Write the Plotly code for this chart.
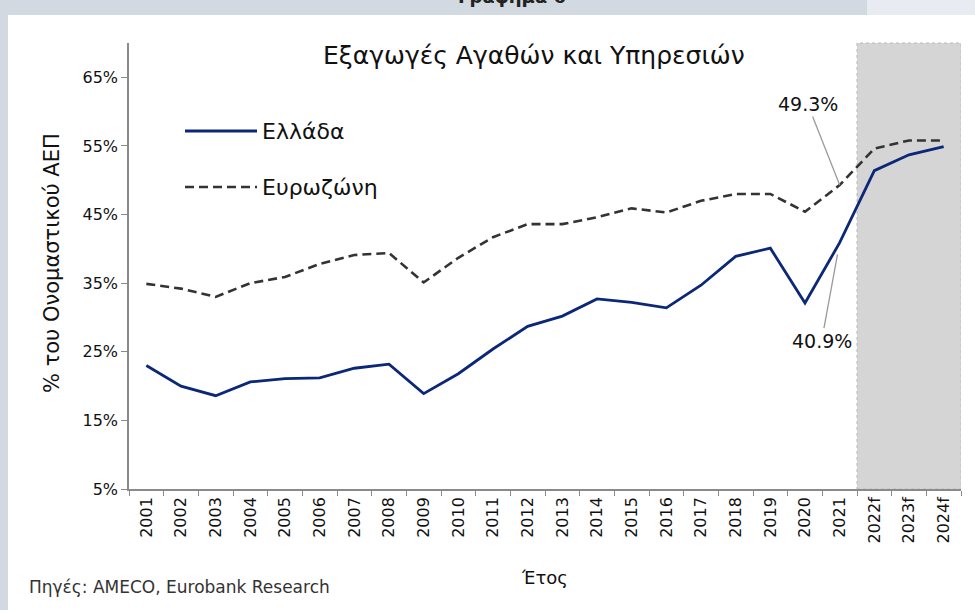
import plotly.graph_objects as go

years = ["2001", "2002", "2003", "2004", "2005", "2006", "2007", "2008", "2009", "2010",
         "2011", "2012", "2013", "2014", "2015", "2016", "2017", "2018", "2019", "2020",
         "2021", "2022f", "2023f", "2024f"]
greece = [23.0, 20.0, 18.6, 20.6, 21.1, 21.2, 22.6, 23.2, 18.9, 21.8,
          25.4, 28.7, 30.2, 32.7, 32.2, 31.4, 34.7, 38.9, 40.1, 32.1,
          40.9, 51.4, 53.7, 54.9]
eurozone = [34.9, 34.2, 33.0, 35.0, 35.9, 37.8, 39.1, 39.4, 35.1, 38.7,
            41.7, 43.6, 43.6, 44.6, 45.9, 45.3, 47.0, 48.0, 48.0, 45.4,
            49.3, 54.6, 55.8, 55.8]
y_ticks = [5, 15, 25, 35, 45, 55, 65]
forecast_years = ["2022f", "2023f", "2024f"]
label_year = "2021"

FONT = "DejaVu Sans"
W, H = 975, 610
L, R, T, B = 129, 14, 43, 121
PW, PH = W - L - R, H - T - B


def px(x):
    return (x - L) / PW


def py(y):
    return (H - B - y) / PH


fig = go.Figure()
fig.add_trace(go.Scatter(x=years, y=greece, mode="lines", name="Ελλάδα",
                         line=dict(color="#0b2777", width=2.8), showlegend=False))
fig.add_trace(go.Scatter(x=years, y=eurozone, mode="lines", name="Ευρωζώνη",
                         line=dict(color="#333333", width=2.6, dash="9px,5px"),
                         showlegend=False))

shapes = []
# outer gray frame
shapes.append(dict(type="rect", xref="paper", yref="paper", x0=px(0), x1=px(W), y0=py(0), y1=py(H),
                   fillcolor="#d3d9e0", line=dict(width=0), layer="below"))
shapes.append(dict(type="rect", xref="paper", yref="paper", x0=px(867), x1=px(W), y0=py(0), y1=py(15),
                   fillcolor="#e8ecf2", line=dict(width=0), layer="below"))
shapes.append(dict(type="rect", xref="paper", yref="paper", x0=px(8), x1=px(W), y0=py(15), y1=py(H),
                   fillcolor="#ffffff", line=dict(width=0), layer="below"))
# forecast shading
i0 = years.index(forecast_years[0]) - 0.5
i1 = years.index(forecast_years[-1]) + 0.5
shapes.append(dict(type="rect", xref="x", yref="paper", x0=i0, x1=i1, y0=0, y1=1,
                   fillcolor="#d5d5d5", line=dict(color="#b8b8b8", width=1, dash="dot"),
                   layer="below"))
# manual legend samples
shapes.append(dict(type="line", xref="paper", yref="paper", x0=px(185), x1=px(257), y0=py(131), y1=py(131),
                   line=dict(color="#0b2777", width=2.8)))
shapes.append(dict(type="line", xref="paper", yref="paper", x0=px(185), x1=px(257), y0=py(187), y1=py(187),
                   line=dict(color="#333333", width=2.6, dash="9px,5px")))

li = years.index(label_year)
annotations = [
    dict(text="Γράφημα 6", xref="paper", yref="paper", x=px(512), y=py(9), xanchor="center",
         yanchor="bottom", showarrow=False, font=dict(family=FONT, size=18, color="#222", weight="bold")),
    dict(text="Εξαγωγές Αγαθών και Υπηρεσιών", xref="paper", yref="paper", x=px(534), y=py(56),
         xanchor="center", yanchor="middle", showarrow=False,
         font=dict(family=FONT, size=25, color="#111")),
    dict(text="Ελλάδα", xref="paper", yref="paper", x=px(260), y=py(131), xanchor="left", yanchor="middle",
         showarrow=False, font=dict(family=FONT, size=22, color="#111")),
    dict(text="Ευρωζώνη", xref="paper", yref="paper", x=px(260), y=py(187), xanchor="left", yanchor="middle",
         showarrow=False, font=dict(family=FONT, size=22, color="#111")),
    dict(text="% του Ονομαστικού ΑΕΠ", xref="paper", yref="paper", x=px(52), y=py(263), textangle=-90,
         xanchor="center", yanchor="middle", showarrow=False,
         font=dict(family=FONT, size=21, color="#111")),
    dict(text="Έτος", xref="paper", yref="paper", x=px(544), y=py(577), xanchor="center", yanchor="middle",
         showarrow=False, font=dict(family=FONT, size=18, color="#111")),
    dict(text="Πηγές: AMECO, Eurobank Research", xref="paper", yref="paper", x=px(27), y=py(587),
         xanchor="left", yanchor="middle", showarrow=False,
         font=dict(family=FONT, size=17, color="#333")),
    dict(text="49.3%", x=li, y=eurozone[li], xref="x", yref="y",
         ax=-32, ay=-81, showarrow=True, arrowhead=0, arrowwidth=1.3, arrowcolor="#9a9a9a",
         font=dict(family=FONT, size=19, color="#111")),
    dict(text="40.9%", x=li, y=greece[li], xref="x", yref="y",
         ax=-18, ay=98, showarrow=True, arrowhead=0, arrowwidth=1.3, arrowcolor="#9a9a9a", standoff=12,
         font=dict(family=FONT, size=19, color="#111")),
]

fig.update_layout(
    width=W, height=H,
    margin=dict(l=L, r=R, t=T, b=B, pad=0),
    paper_bgcolor="#ffffff", plot_bgcolor="rgba(0,0,0,0)",
    font=dict(family=FONT, color="#111"),
    shapes=shapes, annotations=annotations, showlegend=False,
)
fig.update_xaxes(type="category", range=[-0.5, len(years) - 0.5], showline=True, linecolor="#8a8a8a",
                 linewidth=1.5, ticks="outside", tickson="boundaries", ticklen=5, tickcolor="#8a8a8a",
                 tickangle=-90, tickfont=dict(family=FONT, size=16, color="#111"), showgrid=False,
                 zeroline=False)
fig.update_yaxes(range=[5, 70], tickvals=y_ticks, ticktext=[f"{v}%" for v in y_ticks], showline=True,
                 linecolor="#8a8a8a", linewidth=1.5, ticks="outside", ticklen=6, tickcolor="#8a8a8a",
                 tickfont=dict(family=FONT, size=16, color="#111"), showgrid=False, zeroline=False)

fig.write_html("out.html", config={"displayModeBar": False},
               post_script="document.body.style.margin='0';document.body.style.overflow='hidden';")
